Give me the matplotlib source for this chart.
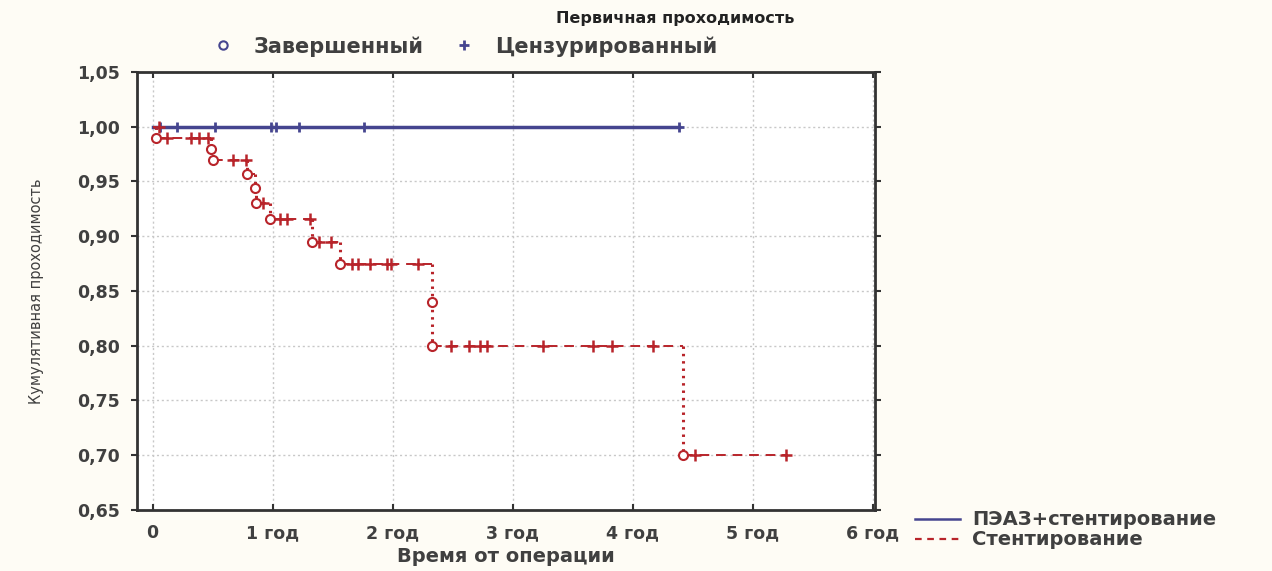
import matplotlib.pyplot as plt
from matplotlib.lines import Line2D

# Kaplan-Meier data (time in years, survival fraction)
# PЭАЗ+стентирование: no events, only censored cases
blue_end = 4.39
blue_cens_t = [0.06, 0.2, 0.52, 0.99, 1.03, 1.22, 1.76, 4.39]

# Стентирование: events (circles) and censored cases (pluses)
red_event_t = [0.03, 0.49, 0.50, 0.79, 0.85, 0.86, 0.98, 1.33, 1.56, 2.33, 2.33, 4.42]
red_event_s = [0.99, 0.98, 0.97, 0.957, 0.944, 0.930, 0.916, 0.895, 0.875, 0.84, 0.80, 0.70]
red_end = 5.28
red_cens_t = [0.05, 0.12, 0.32, 0.39, 0.46, 0.67, 0.78, 0.92,
              1.06, 1.12, 1.31, 1.39, 1.49,
              1.66, 1.71, 1.81, 1.95, 1.99, 2.21,
              2.49, 2.64, 2.73, 2.79, 3.25, 3.67, 3.83, 4.17,
              4.52, 5.28]
red_cens_s = [1.0, 0.99, 0.99, 0.99, 0.99, 0.97, 0.97, 0.930,
              0.916, 0.916, 0.916, 0.895, 0.895,
              0.875, 0.875, 0.875, 0.875, 0.875, 0.875,
              0.80, 0.80, 0.80, 0.80, 0.80, 0.80, 0.80, 0.80,
              0.70, 0.70]

x_ticks = [0, 1, 2, 3, 4, 5, 6]
x_labels = ['0', '1 год', '2 год', '3 год', '4 год', '5 год', '6 год']
y_ticks = [0.65, 0.70, 0.75, 0.80, 0.85, 0.90, 0.95, 1.00, 1.05]
y_labels = ['0,65', '0,70', '0,75', '0,80', '0,85', '0,90', '0,95', '1,00', '1,05']

blue = '#45458f'
red = '#b8242a'
txt = '#404040'

fig = plt.figure(figsize=(12.72, 5.71), dpi=100, facecolor='#fefcf5')
ax = fig.add_axes([0.1077, 0.107, 0.5803, 0.767])
ax.set_facecolor('white')

# blue curve
ax.plot([0, blue_end], [1.0, 1.0], color=blue, lw=2.5, zorder=3)
ax.plot(blue_cens_t, [1.0] * len(blue_cens_t), ls='none', marker='+',
        ms=7, mew=2, color=blue, zorder=4)

# red step curve: dashed horizontals, dotted verticals
prev_t, prev_s = 0.0, 1.0
for t, s in zip(red_event_t, red_event_s):
    ax.plot([prev_t, t], [prev_s, prev_s], color=red, lw=1.4,
            ls=(0, (5, 3.5)), zorder=3)
    ax.plot([t, t], [prev_s, s], color=red, lw=2.2, ls=(0, (0.8, 1.6)), zorder=3)
    prev_t, prev_s = t, s
ax.plot([prev_t, red_end], [prev_s, prev_s], color=red, lw=1.4,
        ls=(0, (5, 3.5)), zorder=3)
ax.plot(red_event_t, red_event_s, ls='none', marker='o', ms=6.5, mew=1.5,
        mfc='white', mec=red, zorder=5)
ax.plot(red_cens_t, red_cens_s, ls='none', marker='+', ms=8, mew=1.8,
        color=red, zorder=4)

ax.set_xlim(-0.13, 6.02)
ax.set_ylim(0.65, 1.05)
ax.set_xticks(x_ticks)
ax.set_xticklabels(x_labels)
ax.set_yticks(y_ticks)
ax.set_yticklabels(y_labels)
ax.grid(True, color='#c8c8c8', ls=(0, (1.5, 2)), lw=1)
ax.tick_params(axis='both', labelsize=12.5, labelcolor=txt, length=4, width=1.5,
               color='#333333', direction='in', top=True, right=True)
ax.tick_params(axis='y', direction='out', pad=8)
ax.tick_params(axis='x', pad=10)
for lab in ax.get_xticklabels() + ax.get_yticklabels():
    lab.set_fontweight('bold')
for sp in ax.spines.values():
    sp.set_linewidth(2)
    sp.set_color('#333333')

ax.set_xlabel('Время от операции', fontsize=14, fontweight='bold', color=txt,
              labelpad=4)
ax.set_ylabel('Кумулятивная проходимость', fontsize=10.5, color=txt,
              labelpad=24)

fig.text(0.531, 0.968, 'Первичная проходимость', ha='center', va='center',
         fontsize=11.5, fontweight='bold', color='#222222')

# top legend: marker meaning
top_handles = [
    Line2D([], [], ls='none', marker='o', ms=6, mfc='none', mec=blue, mew=1.5),
    Line2D([], [], ls='none', marker='+', ms=7, mew=2, color=blue),
]
leg1 = fig.legend(top_handles, ['Завершенный', 'Цензурированный'], ncol=2,
                  loc='center', bbox_to_anchor=(0.362, 0.919), frameon=False,
                  prop={'size': 15, 'weight': 'bold'}, columnspacing=1.0,
                  handletextpad=0.6, handlelength=1.8)
for t in leg1.get_texts():
    t.set_color(txt)

# bottom right legend: groups
grp_handles = [
    Line2D([], [], color=blue, lw=1.8),
    Line2D([], [], color=red, lw=1.6, ls=(0, (3, 2.5))),
]
leg2 = fig.legend(grp_handles, ['ПЭАЗ+стентирование', 'Стентирование'],
                  loc='upper left', bbox_to_anchor=(0.709, 0.13), frameon=False,
                  prop={'size': 14, 'weight': 'bold'}, handlelength=2.3,
                  handletextpad=0.6, labelspacing=0.05, borderpad=0.2)
for t in leg2.get_texts():
    t.set_color(txt)

fig.savefig('out.png', dpi=100, facecolor=fig.get_facecolor())
